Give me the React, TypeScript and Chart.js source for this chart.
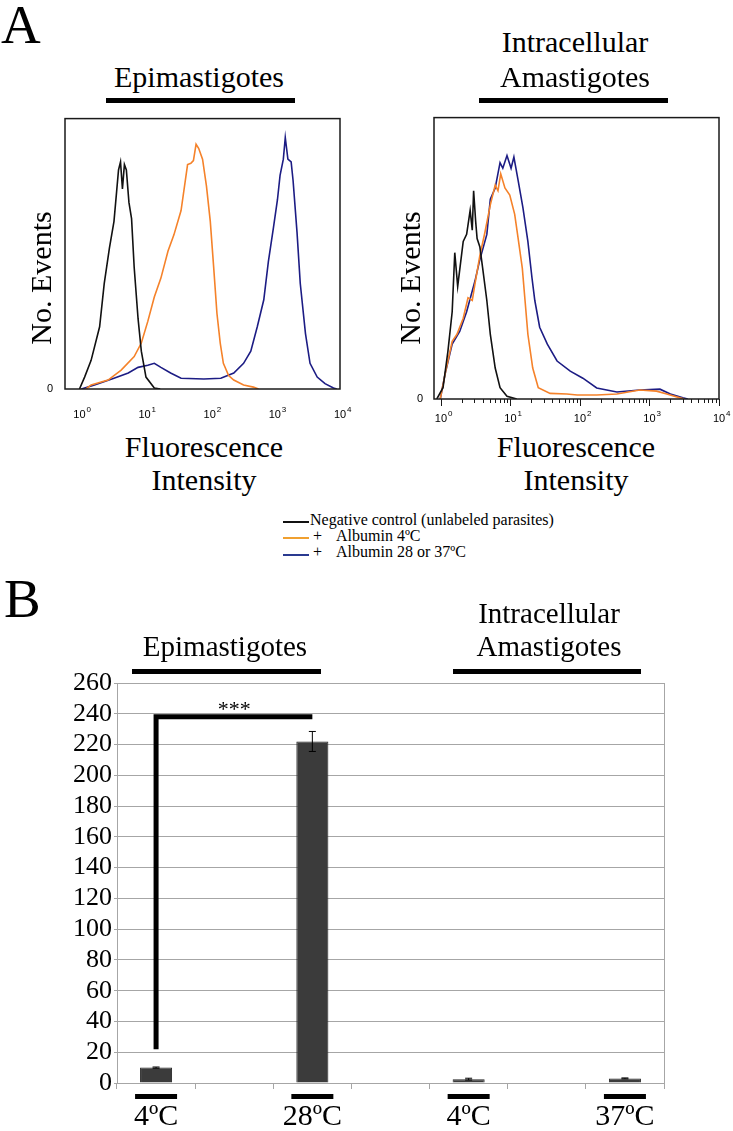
import React, { useEffect, useRef } from 'react';
import { Chart, registerables } from 'chart.js';

Chart.register(...registerables);

const SERIF = '"Liberation Serif", "Times New Roman", serif';
const SANS = '"Liberation Sans", Arial, sans-serif';

// ---------- Panel A : histogram data (fluorescence intensity, relative events) ----------
const decadeExponents = [0, 1, 2, 3, 4];

const epiNegX = [1.0, 1.2, 1.51, 2.04, 2.4, 2.88, 3.39, 3.72, 3.98, 4.27, 4.57, 4.9, 5.25, 5.75, 6.31, 6.92, 7.94, 8.91, 10.5, 14.1, 17.4];
const epiNegY = [0, 4.4, 10.6, 23, 39, 52, 62, 73, 81, 84, 74, 83, 81, 69, 63, 45, 26, 14, 4.4, 0.4, 0];

const epi4X = [1.26, 1.51, 2.75, 4.37, 6.92, 8.91, 11.2, 14.1, 17.8, 22.9, 28.2, 36.3, 45.7, 51.3, 56.2, 61.7, 67.6, 77.6, 89.1, 102, 115, 129, 145, 162, 195, 234, 331, 468, 562];
const epi4Y = [0, 1.5, 3.3, 7, 12, 17, 25, 34, 41, 51, 57, 66, 83, 83.5, 84.5, 90.5, 89, 85, 75, 62, 45, 28, 17, 9.5, 5, 3.3, 1.5, 0.7, 0];

const epiWarmX = [1.07, 1.7, 3.39, 5.62, 7.94, 11.2, 14.1, 17.8, 25.1, 36.3, 81.3, 148, 234, 331, 427, 537, 676, 794, 955, 1096, 1202, 1349, 1445, 1585, 1778, 1905, 2188, 2455, 2951, 3467, 4467, 5888, 7943, 8913];
const epiWarmY = [0, 1.5, 4, 5.9, 8, 8.8, 9.5, 8, 5.9, 4, 3.7, 4, 5.9, 9.5, 14, 23, 33, 47, 60, 70, 79, 85, 93, 85, 84, 77, 58, 39, 20.5, 9.5, 4.4, 2, 0.4, 0];

const amaNegX = [0.871, 1.07, 1.26, 1.45, 1.58, 1.74, 1.95, 2.09, 2.34, 2.63, 2.82, 2.95, 3.16, 3.31, 3.63, 3.98, 4.57, 5.13, 6.03, 7.08, 8.91, 12.3];
const amaNegY = [0, 4, 17, 31, 52, 40, 50, 56, 58.5, 67, 60, 74, 63, 57, 54, 46.5, 35, 23, 11, 4, 1, 0];

const ama4X = [0.977, 1.15, 1.45, 1.7, 2.09, 2.45, 2.82, 3.09, 3.63, 4.27, 5.13, 6.03, 6.61, 7.24, 8.32, 9.77, 11.5, 12.9, 14.8, 16.2, 17.8, 20.9, 25.1, 37.2, 64.6, 91.2, 174, 339, 724, 1259, 1778, 2754, 3162];
const ama4Y = [0, 9, 20.5, 23, 28.7, 36, 35, 41, 51, 59, 69, 76, 74, 80, 75, 72.5, 65.6, 57, 46.5, 35, 23, 11, 4, 2, 1.8, 1.4, 1.4, 1.8, 3.2, 2.8, 1.8, 0.4, 0];

const amaWarmX = [0.977, 1.15, 1.45, 1.86, 2.34, 3.09, 3.63, 4.57, 5.13, 6.03, 7.08, 7.76, 8.91, 10.2, 11.2, 12.9, 15.1, 17.8, 20.4, 22.4, 26.3, 33.9, 46.8, 72.4, 110, 174, 339, 724, 1413, 1995, 3020, 3548];
const amaWarmY = [0, 9, 19.5, 24, 31, 42, 49.6, 58.5, 71, 75, 84, 82, 86.5, 82, 86, 77.6, 68, 56, 43, 35, 25.5, 19.5, 13.5, 9.9, 7.4, 3.9, 2.5, 3.2, 3.5, 1.8, 0.4, 0];

const COLOR_NEG = '#111111';
const COLOR_4 = '#f5822a';
const COLOR_WARM = '#1c1c84';

const legendLabels = ['Negative control (unlabeled parasites)', 'Albumin 4ºC', 'Albumin 28 or 37ºC'];

// ---------- Panel B : bar data ----------
const barLabels = ['4ºC', '', '28ºC', '', '4ºC', '', '37ºC'];
const barValues = [10, null, 222, null, 2.5, null, 3];
const barErrors = [0.4, null, 6.5, null, 0.6, null, 0.3];
const yTickMin = 0;
const yTickMax = 260;
const yTickStep = 20;
const sigFrom = 0;
const sigTo = 2;
const sigTop = 238;
const sigBottom = 22;
const sigLabel = '***';
const sigLabelValue = 246;

const GRID = '#a6a6a6';

// ---------- plugins ----------
const histoFrame = {
  id: 'histoFrame',
  afterDatasetsDraw(chart: any, _args: any, opts: any) {
    const { ctx, chartArea: a, scales } = chart;
    const x = scales.x;
    ctx.save();
    ctx.strokeStyle = '#1a1a1a';
    ctx.lineWidth = 1.5;
    ctx.strokeRect(a.left, a.top, a.right - a.left, a.bottom - a.top);
    ctx.lineWidth = 1;
    if (opts.minorTicks) {
      for (const e of decadeExponents) {
        for (let m = 1; m <= 9; m++) {
          const v = m * Math.pow(10, e);
          if (v < x.min || v > x.max) continue;
          const px = Math.round(x.getPixelForValue(v)) + 0.5;
          const len = m === 1 ? 7 : 4;
          ctx.beginPath();
          ctx.moveTo(px, a.bottom);
          ctx.lineTo(px, a.bottom + len);
          ctx.stroke();
        }
      }
    }
    ctx.fillStyle = '#000';
    for (const e of decadeExponents) {
      const px = x.getPixelForValue(Math.pow(10, e));
      ctx.font = `11px ${SANS}`;
      ctx.textAlign = 'center';
      ctx.textBaseline = 'alphabetic';
      ctx.fillText('10', px, a.bottom + opts.labelOffset);
      ctx.font = `8px ${SANS}`;
      ctx.textAlign = 'left';
      ctx.fillText(String(e), px + 7, a.bottom + opts.labelOffset - 6);
    }
    ctx.restore();
  },
};

const barAnnotations = {
  id: 'barAnnotations',
  afterDatasetsDraw(chart: any) {
    const { ctx, chartArea: a, scales } = chart;
    const x = scales.x;
    const y = scales.y;
    ctx.save();
    ctx.strokeStyle = GRID;
    ctx.lineWidth = 1;
    ctx.beginPath();
    ctx.moveTo(Math.round(a.right) + 0.5, a.top);
    ctx.lineTo(Math.round(a.right) + 0.5, a.bottom);
    ctx.stroke();

    barValues.forEach((v, i) => {
      if (v == null) return;
      const px = x.getPixelForValue(i);
      const e = barErrors[i];
      ctx.strokeStyle = '#000';
      ctx.lineWidth = 1;
      if (e) {
        const t = y.getPixelForValue(v + e);
        const b = y.getPixelForValue(v - e);
        ctx.beginPath();
        ctx.moveTo(px, t);
        ctx.lineTo(px, b);
        ctx.moveTo(px - 3.5, t);
        ctx.lineTo(px + 3.5, t);
        ctx.moveTo(px - 3.5, b);
        ctx.lineTo(px + 3.5, b);
        ctx.stroke();
      }
      ctx.fillStyle = '#000';
      ctx.fillRect(px - 21, a.bottom + 11, 42, 5);
    });

    const x0 = x.getPixelForValue(sigFrom);
    const x1 = x.getPixelForValue(sigTo);
    const yt = y.getPixelForValue(sigTop);
    const yb = y.getPixelForValue(sigBottom);
    ctx.strokeStyle = '#000';
    ctx.lineWidth = 5;
    ctx.lineJoin = 'miter';
    ctx.beginPath();
    ctx.moveTo(x0, yb);
    ctx.lineTo(x0, yt);
    ctx.lineTo(x1, yt);
    ctx.stroke();
    ctx.fillStyle = '#000';
    ctx.font = `22px ${SERIF}`;
    ctx.textAlign = 'center';
    ctx.textBaseline = 'alphabetic';
    ctx.fillText(sigLabel, (x0 + x1) / 2, y.getPixelForValue(sigLabelValue) + 11);
    ctx.restore();
  },
};

// ---------- components ----------
type Series = { xs: number[]; ys: number[]; color: string };

function HistogramChart(p: {
  left: number; top: number; width: number; height: number;
  area: { left: number; right: number; top: number; bottom: number };
  minX: number; series: Series[]; minorTicks: boolean; labelOffset: number; zeroPad: number;
}) {
  const ref = useRef<HTMLCanvasElement>(null);
  useEffect(() => {
    const chart = new Chart(ref.current as HTMLCanvasElement, {
      type: 'line',
      data: {
        datasets: p.series.map((s) => ({
          data: s.xs.map((x, i) => ({ x, y: s.ys[i] })),
          borderColor: s.color,
          borderWidth: 1.6,
          pointRadius: 0,
          fill: false,
          tension: 0,
        })),
      },
      options: {
        responsive: false,
        animation: false,
        events: [],
        layout: { padding: { top: p.area.top, right: p.width - p.area.right, left: 0, bottom: 0 } },
        plugins: {
          legend: { display: false },
          tooltip: { enabled: false },
          histoFrame: { minorTicks: p.minorTicks, labelOffset: p.labelOffset },
        } as any,
        scales: {
          x: {
            type: 'logarithmic',
            min: p.minX,
            max: 10000,
            ticks: { display: false },
            grid: { display: false, drawTicks: false },
            border: { display: false },
            afterFit: (s: any) => { s.height = p.height - p.area.bottom; },
          },
          y: {
            min: 0,
            max: 100,
            afterBuildTicks: (s: any) => { s.ticks = [{ value: 0 }]; },
            ticks: { font: { family: SANS, size: 11 }, color: '#000', padding: p.zeroPad },
            grid: { display: false, drawTicks: false },
            border: { display: false },
            afterFit: (s: any) => { s.width = p.area.left; },
          },
        } as any,
      },
      plugins: [histoFrame as any],
    });
    return () => chart.destroy();
  }, []);
  return (
    <canvas
      ref={ref}
      width={p.width}
      height={p.height}
      style={{ position: 'absolute', left: p.left, top: p.top, width: p.width, height: p.height }}
    />
  );
}

function BarChart() {
  const ref = useRef<HTMLCanvasElement>(null);
  const W = 733;
  const H = 531;
  useEffect(() => {
    const chart = new Chart(ref.current as HTMLCanvasElement, {
      type: 'bar',
      data: {
        labels: barLabels,
        datasets: [
          {
            data: barValues as any,
            backgroundColor: '#3b3b3b',
            borderColor: '#262626',
            borderWidth: 1,
            barPercentage: 0.82,
            categoryPercentage: 0.5,
          },
        ],
      },
      options: {
        responsive: false,
        animation: false,
        events: [],
        layout: { padding: { top: 83, right: 69, left: 0, bottom: 0 } },
        plugins: { legend: { display: false }, tooltip: { enabled: false } },
        scales: {
          x: {
            offset: true,
            grid: { offset: true, drawOnChartArea: false, tickLength: 6, color: GRID },
            border: { color: GRID },
            ticks: { font: { family: SERIF, size: 30 }, color: '#000', padding: 10, autoSkip: false, maxRotation: 0 },
            afterFit: (s: any) => { s.height = 48; },
          },
          y: {
            min: yTickMin,
            max: yTickMax,
            ticks: { stepSize: yTickStep, autoSkip: false, font: { family: SERIF, size: 26 }, color: '#000', padding: 2 },
            grid: { color: GRID, tickLength: 3 },
            border: { color: GRID },
            afterFit: (s: any) => { s.width = 117; },
          },
        } as any,
      },
      plugins: [barAnnotations as any],
    });
    return () => chart.destroy();
  }, []);
  return (
    <canvas ref={ref} width={W} height={H} style={{ position: 'absolute', left: 0, top: 600, width: W, height: H }} />
  );
}

function Label(p: { x: number; y: number; size: number; children: any; align?: 'center' | 'left' }) {
  const style: any = {
    position: 'absolute',
    top: p.y - 0.8375 * p.size,
    fontFamily: SERIF,
    fontSize: p.size,
    lineHeight: `${p.size}px`,
    whiteSpace: 'nowrap',
    color: '#000',
  };
  if ((p.align || 'center') === 'center') {
    style.left = p.x - 200;
    style.width = 400;
    style.textAlign = 'center';
  } else {
    style.left = p.x;
  }
  return <div style={style}>{p.children}</div>;
}

function VLabel(p: { cx: number; cy: number; size: number; children: any }) {
  return (
    <div
      style={{
        position: 'absolute',
        left: p.cx - 100,
        top: p.cy - p.size / 2,
        width: 200,
        height: p.size,
        lineHeight: `${p.size}px`,
        textAlign: 'center',
        fontFamily: SERIF,
        fontSize: p.size,
        transform: 'rotate(-90deg)',
        whiteSpace: 'nowrap',
      }}
    >
      {p.children}
    </div>
  );
}

function Rule(p: { x: number; y: number; w: number; h: number; color?: string }) {
  return <div style={{ position: 'absolute', left: p.x, top: p.y, width: p.w, height: p.h, background: p.color || '#000' }} />;
}

export default function App() {
  return (
    <div style={{ position: 'absolute', left: 0, top: 0, width: 733, height: 1131, background: '#fff', overflow: 'hidden' }}>
      <HistogramChart
        left={0} top={100} width={366} height={330}
        area={{ left: 65, right: 340, top: 16, bottom: 289 }}
        minX={0.631}
        series={[
          { xs: epiNegX, ys: epiNegY, color: COLOR_NEG },
          { xs: epi4X, ys: epi4Y, color: COLOR_4 },
          { xs: epiWarmX, ys: epiWarmY, color: COLOR_WARM },
        ]}
        minorTicks={false} labelOffset={29} zeroPad={12}
      />
      <HistogramChart
        left={380} top={100} width={353} height={330}
        area={{ left: 54, right: 339, top: 16, bottom: 299 }}
        minX={0.794}
        series={[
          { xs: amaNegX, ys: amaNegY, color: COLOR_NEG },
          { xs: ama4X, ys: ama4Y, color: COLOR_4 },
          { xs: amaWarmX, ys: amaWarmY, color: COLOR_WARM },
        ]}
        minorTicks={true} labelOffset={23} zeroPad={11}
      />
      <BarChart />

      <Label x={1} y={43} size={55} align="left">A</Label>
      <Label x={199} y={87} size={30}>Epimastigotes</Label>
      <Rule x={106} y={98} w={189} h={5} />
      <Label x={575} y={52} size={30}>Intracellular</Label>
      <Label x={575} y={87} size={30}>Amastigotes</Label>
      <Rule x={479} y={98} w={189} h={5} />

      <VLabel cx={41} cy={278} size={30}>No. Events</VLabel>
      <VLabel cx={410} cy={278} size={30}>No. Events</VLabel>

      <Label x={204} y={457} size={30}>Fluorescence</Label>
      <Label x={204} y={490} size={30}>Intensity</Label>
      <Label x={576} y={457} size={30}>Fluorescence</Label>
      <Label x={576} y={490} size={30}>Intensity</Label>

      <Rule x={283} y={521} w={26} h={2} color={COLOR_NEG} />
      <Label x={310} y={525} size={16} align="left">{legendLabels[0]}</Label>
      <Rule x={283} y={537} w={26} h={2} color="#f0a030" />
      <Label x={313} y={541} size={16} align="left">+</Label>
      <Label x={336} y={541} size={16} align="left">{legendLabels[1]}</Label>
      <Rule x={283} y={554} w={26} h={2} color="#2a3a90" />
      <Label x={313} y={557} size={16} align="left">+</Label>
      <Label x={336} y={557} size={16} align="left">{legendLabels[2]}</Label>

      <Label x={4} y={617} size={55} align="left">B</Label>
      <Label x={225} y={656} size={29}>Epimastigotes</Label>
      <Rule x={132} y={669} w={189} h={5} />
      <Label x={549} y={623} size={29}>Intracellular</Label>
      <Label x={549} y={656} size={29}>Amastigotes</Label>
      <Rule x={453} y={669} w={188} h={5} />
    </div>
  );
}
